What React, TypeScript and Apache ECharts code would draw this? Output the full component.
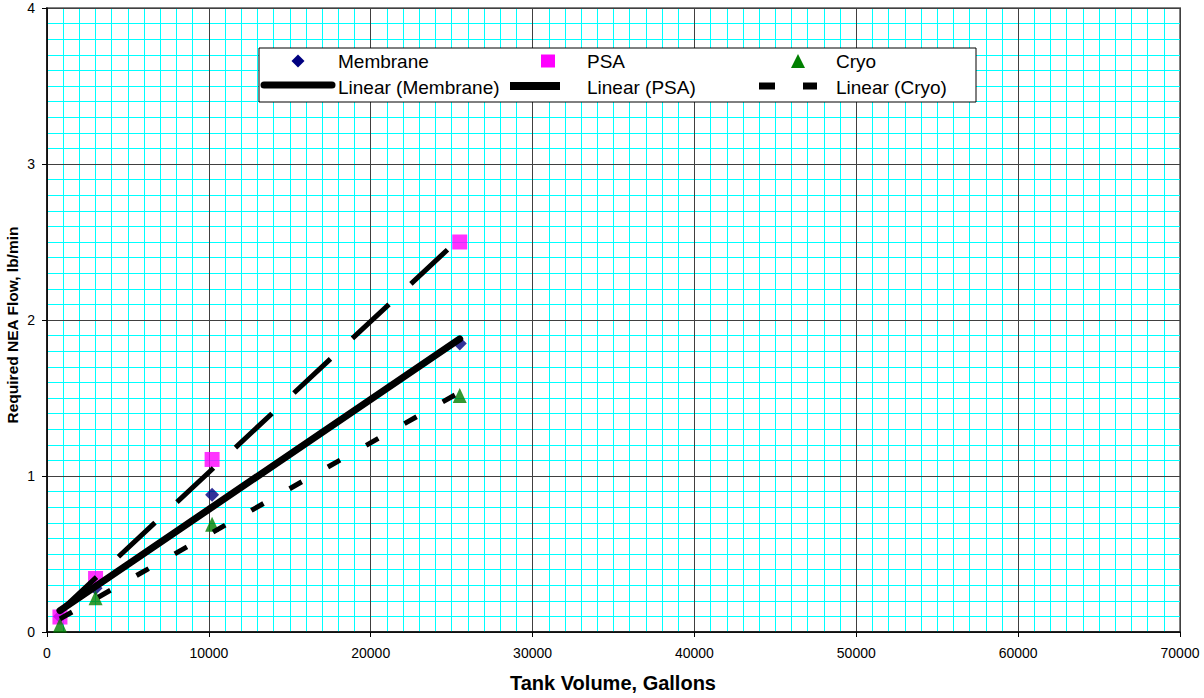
import React, { useEffect, useRef } from "react";
import * as echarts from "echarts";

// Data
const tankVolumes = [800, 3000, 10200, 25500];
const membraneFlow = [0.1, 0.28, 0.88, 1.85];
const psaFlow = [0.096, 0.343, 1.106, 2.5];
const cryoFlow = [0.045, 0.22, 0.69, 1.516];

const xMin = 0;
const xMax = 70000;
const xInterval = 10000;
const xMinorInterval = 1000;
const yMin = 0;
const yMax = 4;
const yInterval = 1;
const yMinorInterval = 0.1;

const FONT = "'Liberation Sans', Arial, sans-serif";

function pairs(xs: number[], ys: number[]) {
  return xs.map((x, i) => [x, ys[i]]);
}

// least-squares linear trendline (like Excel's "Linear" trendline)
function linearFit(xs: number[], ys: number[]) {
  const n = xs.length;
  const mx = xs.reduce((a, b) => a + b, 0) / n;
  const my = ys.reduce((a, b) => a + b, 0) / n;
  let sxy = 0;
  let sxx = 0;
  for (let i = 0; i < n; i++) {
    sxy += (xs[i] - mx) * (ys[i] - my);
    sxx += (xs[i] - mx) * (xs[i] - mx);
  }
  const slope = sxy / sxx;
  const intercept = my - slope * mx;
  const lo = Math.min(...xs);
  const hi = Math.max(...xs);
  return [
    [lo, intercept + slope * lo],
    [hi, intercept + slope * hi],
  ];
}

export default function App() {
  const ref = useRef<HTMLDivElement>(null);

  useEffect(() => {
    if (!ref.current) return;
    const chart = echarts.init(ref.current, undefined, { renderer: "svg" });

    const mainAxis = {
      type: "value" as const,
      z: 1,
      axisLine: { show: true, onZero: false, lineStyle: { color: "#000", width: 1.5 } },
      axisTick: { show: true, inside: false, length: 5, lineStyle: { color: "#000", width: 1 } },
      splitLine: { show: true, lineStyle: { color: "#404040", width: 1 } },
    };
    const minorAxis = {
      type: "value" as const,
      z: 0,
      axisLine: { show: false },
      axisTick: { show: false },
      axisLabel: { show: false },
      splitLine: { show: true, lineStyle: { color: "#00FFFF", width: 1 } },
    };

    const legendFont = `19px ${FONT}`;
    const row1 = 61;
    const row2 = 87;

    const option: any = {
      animation: false,
      backgroundColor: "#fff",
      grid: {
        left: 47,
        right: 24,
        top: 8,
        bottom: 66,
        show: true,
        borderColor: "#808080",
        borderWidth: 2,
        backgroundColor: "#fff",
      },
      xAxis: [
        {
          ...mainAxis,
          min: xMin,
          max: xMax,
          interval: xInterval,
          axisLabel: {
            fontFamily: FONT,
            fontSize: 14,
            color: "#000",
            margin: 14,
            formatter: (v: number) => String(v),
          },
        },
        { ...minorAxis, min: xMin, max: xMax, interval: xMinorInterval },
      ],
      yAxis: [
        {
          ...mainAxis,
          min: yMin,
          max: yMax,
          interval: yInterval,
          axisLabel: {
            fontFamily: FONT,
            fontSize: 14,
            color: "#000",
            margin: 12,
            formatter: (v: number) => String(v),
          },
        },
        { ...minorAxis, min: yMin, max: yMax, interval: yMinorInterval },
      ],
      series: [
        {
          name: "Membrane",
          type: "scatter",
          symbol: "diamond",
          symbolSize: 14,
          itemStyle: { color: "#000080" },
          data: pairs(tankVolumes, membraneFlow),
          z: 2,
        },
        {
          name: "PSA",
          type: "scatter",
          symbol: "rect",
          symbolSize: 15,
          itemStyle: { color: "#FF00FF" },
          data: pairs(tankVolumes, psaFlow),
          z: 2,
        },
        {
          name: "Cryo",
          type: "scatter",
          symbol: "triangle",
          symbolSize: [14, 15],
          itemStyle: { color: "#008000" },
          data: pairs(tankVolumes, cryoFlow),
          z: 2,
        },
        {
          name: "Linear (Membrane)",
          type: "line",
          showSymbol: false,
          symbol: "none",
          data: linearFit(tankVolumes, membraneFlow),
          lineStyle: { color: "#000", width: 7, cap: "round" },
          z: 3,
        },
        {
          name: "Linear (PSA)",
          type: "line",
          showSymbol: false,
          symbol: "none",
          data: linearFit(tankVolumes, psaFlow),
          lineStyle: { color: "#000", width: 5, type: [50, 30], cap: "butt" },
          z: 3,
        },
        {
          name: "Linear (Cryo)",
          type: "line",
          showSymbol: false,
          symbol: "none",
          data: linearFit(tankVolumes, cryoFlow),
          lineStyle: { color: "#000", width: 5, type: [14, 30], cap: "butt" },
          z: 3,
        },
      ],
      graphic: [
        {
          type: "rect",
          shape: { x: 259, y: 48, width: 717, height: 54 },
          style: { fill: "#fff", stroke: "#000", lineWidth: 1 },
          z: 10,
        },
        {
          type: "polygon",
          shape: { points: [[298, 54.5], [304.5, 61], [298, 67.5], [291.5, 61]] },
          style: { fill: "#000080" },
          z: 11,
        },
        {
          type: "rect",
          shape: { x: 541, y: 54.5, width: 14, height: 13 },
          style: { fill: "#FF00FF" },
          z: 11,
        },
        {
          type: "polygon",
          shape: { points: [[798, 54], [805, 68], [791, 68]] },
          style: { fill: "#008000" },
          z: 11,
        },
        {
          type: "line",
          shape: { x1: 264, y1: 85, x2: 332, y2: 85 },
          style: { stroke: "#000", lineWidth: 7, lineCap: "round" },
          z: 11,
        },
        {
          type: "line",
          shape: { x1: 510, y1: 86, x2: 560, y2: 86 },
          style: { stroke: "#000", lineWidth: 8 },
          z: 11,
        },
        {
          type: "line",
          shape: { x1: 759, y1: 86, x2: 775, y2: 86 },
          style: { stroke: "#000", lineWidth: 7 },
          z: 11,
        },
        {
          type: "line",
          shape: { x1: 803, y1: 86, x2: 817, y2: 86 },
          style: { stroke: "#000", lineWidth: 7 },
          z: 11,
        },
        ...[
          ["Membrane", 338, row1],
          ["PSA", 587, row1],
          ["Cryo", 836, row1],
          ["Linear (Membrane)", 338, row2],
          ["Linear (PSA)", 587, row2],
          ["Linear (Cryo)", 836, row2],
        ].map(([t, x, y]) => ({
          type: "text",
          x: x as number,
          y: y as number,
          style: {
            text: t as string,
            font: legendFont,
            fill: "#000",
            align: "left",
            verticalAlign: "middle",
          },
          z: 11,
        })),
        {
          type: "text",
          x: 613,
          y: 683,
          style: {
            text: "Tank Volume, Gallons",
            font: `bold 20px ${FONT}`,
            fill: "#000",
            align: "center",
            verticalAlign: "middle",
          },
        },
        {
          type: "text",
          x: 12,
          y: 325,
          rotation: Math.PI / 2,
          style: {
            text: "Required NEA Flow, lb/min",
            font: `bold 15.5px ${FONT}`,
            fill: "#000",
            align: "center",
            verticalAlign: "middle",
          },
        },
      ],
    };

    chart.setOption(option);
    return () => chart.dispose();
  }, []);

  return (
    <div
      ref={ref}
      style={{ position: "absolute", left: 0, top: 0, width: 1204, height: 698 }}
    />
  );
}
